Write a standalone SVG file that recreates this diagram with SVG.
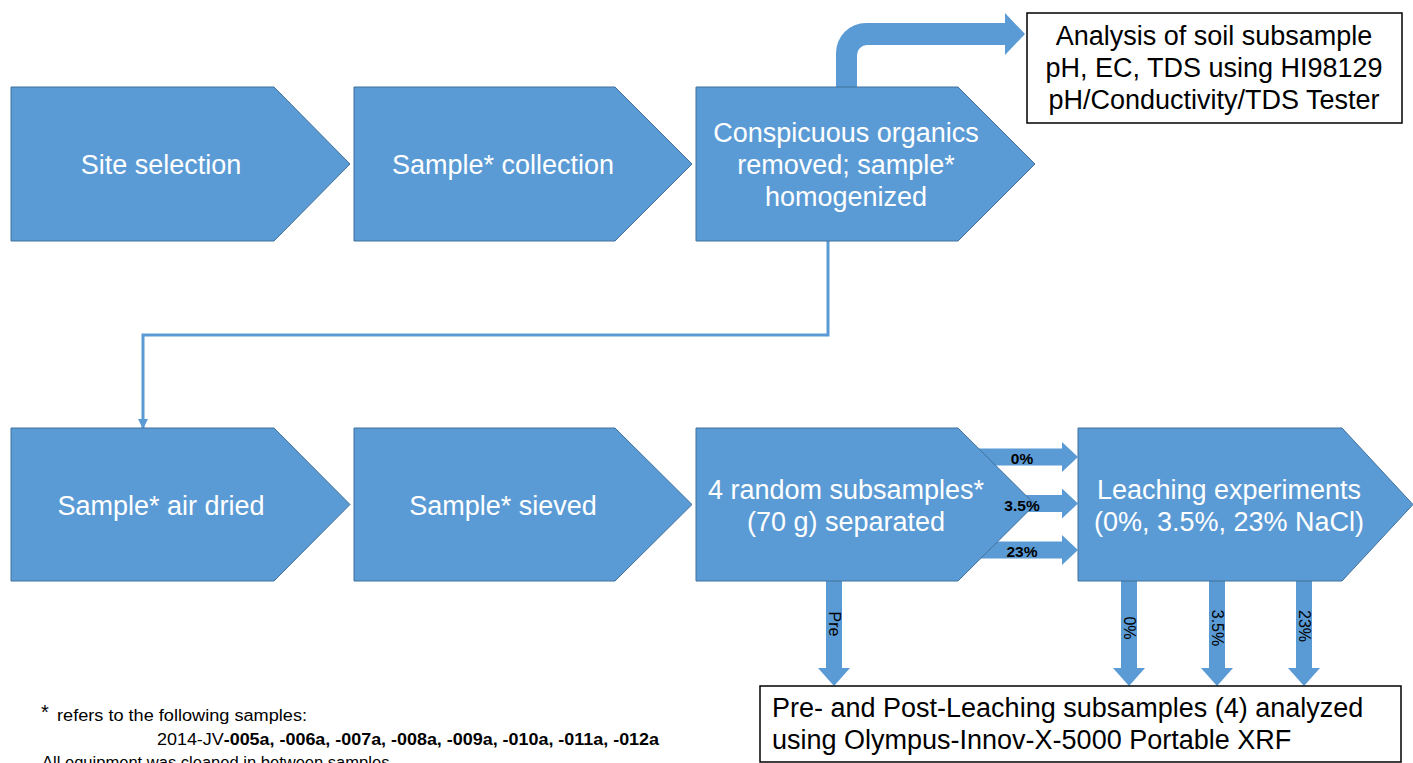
<svg xmlns="http://www.w3.org/2000/svg" width="1413" height="763" viewBox="0 0 1413 763">
<style>
.step{fill:#5B9BD5;stroke:#41719C;stroke-width:1}
.arr{fill:#5B9BD5;stroke:none}
.wt{font-family:"Liberation Sans",Arial,sans-serif;font-size:27px;fill:#ffffff;text-anchor:middle}
.bt{font-family:"Liberation Sans",Arial,sans-serif;font-size:27px;fill:#000000}
.lbl{font-family:"Liberation Sans",Arial,sans-serif;font-size:15.5px;font-weight:bold;fill:#000;text-anchor:middle}
.vl{font-family:"Liberation Sans",Arial,sans-serif;font-size:16px;fill:#000;text-anchor:middle;dominant-baseline:central}
.fn{font-family:"Liberation Sans",Arial,sans-serif;font-size:16px;fill:#000}
.box{fill:#fff;stroke:#000;stroke-width:1.5}
</style>
<defs>
<marker id="ah" markerWidth="10" markerHeight="10" refX="9" refY="5" orient="auto" markerUnits="userSpaceOnUse">
<path d="M0,0 L10,5 L0,10 Z" fill="#5B9BD5"/>
</marker>
</defs>
<rect width="1413" height="763" fill="#ffffff"/>
<g id="connectors">
<path class="arr" d="M836,90 V53 A30,30 0 0 1 866,23 H1005 V13 L1025,34 L1005,55 V45 H867 A10,10 0 0 0 857,55 V90 Z"/>
<polyline points="828,241 828,335 143,335 143,428" fill="none" stroke="#5B9BD5" stroke-width="3" marker-end="url(#ah)"/>
<path class="arr" d="M970,448.5 H1062 V442 L1078,457 L1062,472 V465.5 H970 Z"/>
<path class="arr" d="M970,495 H1062 V488.5 L1078,503.5 L1062,518.5 V512 H970 Z"/>
<path class="arr" d="M970,541.5 H1062 V535 L1078,550 L1062,565 V558.5 H970 Z"/>
<path class="arr" d="M826,581 V668 H818 L834,686 L850,668 H842 V581 Z"/>
<path class="arr" d="M1121,581 V668 H1113 L1129,686 L1145,668 H1137 V581 Z"/>
<path class="arr" d="M1209,581 V668 H1201 L1217,686 L1233,668 H1225 V581 Z"/>
<path class="arr" d="M1296,581 V668 H1288 L1304,686 L1320,668 H1312 V581 Z"/>
<text class="vl" transform="translate(834,624) rotate(90)">Pre</text>
<text class="vl" transform="translate(1129,628) rotate(90)">0%</text>
<text class="vl" transform="translate(1217,628) rotate(90)">3.5%</text>
<text class="vl" transform="translate(1304,626) rotate(90)">23%</text>
</g>
<g id="n1"><path class="step" d="M11,87 H274 L350,164 L274,241 H11 Z"/><text class="wt" x="161" y="174">Site selection</text></g>
<g id="n2"><path class="step" d="M354,87 H615 L692,164 L615,241 H354 Z"/><text class="wt" x="503" y="174">Sample* collection</text></g>
<g id="n3"><path class="step" d="M696,87 H958 L1035,164 L958,241 H696 Z"/>
<text class="wt" x="846" y="142">Conspicuous organics</text>
<text class="wt" x="846" y="174">removed; sample*</text>
<text class="wt" x="846" y="206">homogenized</text></g>
<g id="n4"><rect class="box" x="1027" y="13" width="375" height="110"/>
<text class="bt" x="1214" y="45" text-anchor="middle">Analysis of soil subsample</text>
<text class="bt" x="1214" y="77" text-anchor="middle">pH, EC, TDS using HI98129</text>
<text class="bt" x="1214" y="109" text-anchor="middle">pH/Conductivity/TDS Tester</text></g>
<g id="n5"><path class="step" d="M11,428 H274 L350,504.5 L274,581 H11 Z"/><text class="wt" x="161" y="515">Sample* air dried</text></g>
<g id="n6"><path class="step" d="M354,428 H615 L692,504.5 L615,581 H354 Z"/><text class="wt" x="503" y="515">Sample* sieved</text></g>
<g id="n7"><path class="step" d="M696,428 H958 L1035,504.5 L958,581 H696 Z"/>
<text class="wt" x="846" y="499">4 random subsamples*</text>
<text class="wt" x="846" y="531">(70 g) separated</text></g>
<g id="arrowlabels">
<text class="lbl" x="1022" y="464">0%</text>
<text class="lbl" x="1022" y="511">3.5%</text>
<text class="lbl" x="1022" y="557">23%</text>
</g>
<g id="n8"><path class="step" d="M1078,428 H1342 L1413,504.5 L1342,581 H1078 Z"/>
<text class="wt" x="1229" y="499">Leaching experiments</text>
<text class="wt" x="1229" y="531">(0%, 3.5%, 23% NaCl)</text></g>
<g id="n9"><rect class="box" x="760" y="686" width="641" height="76"/>
<text class="bt" x="772" y="717">Pre- and Post-Leaching subsamples (4) analyzed</text>
<text class="bt" x="772" y="749">using Olympus-Innov-X-5000 Portable XRF</text></g>
<g id="footnote">
<text class="fn" x="41" y="719" style="font-size:20px">*</text>
<text class="fn" x="57" y="721" textLength="250" lengthAdjust="spacingAndGlyphs">refers to the following samples:</text>
<text class="fn" x="157" y="745" textLength="502" lengthAdjust="spacingAndGlyphs">2014-JV<tspan font-weight="bold">-005a, -006a, -007a, -008a, -009a, -010a, -011a, -012a</tspan></text>
<text class="fn" x="42" y="768" textLength="352" lengthAdjust="spacingAndGlyphs">All equipment was cleaned in between samples.</text>
</g>
</svg>
